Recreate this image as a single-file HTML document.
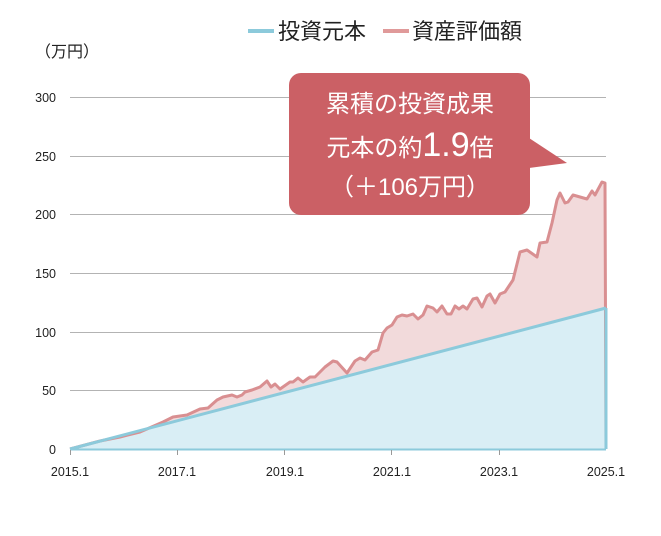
<!DOCTYPE html>
<html><head><meta charset="utf-8"><style>
body{margin:0;background:#fff;}
svg text{font-family:"Liberation Sans","Noto Sans CJK JP",sans-serif;}
</style></head><body>
<svg width="661" height="531" viewBox="0 0 661 531" xmlns="http://www.w3.org/2000/svg">
<g stroke="#b3b3b3" stroke-width="1">
<line x1="70" y1="97.5" x2="606" y2="97.5"/>
<line x1="70" y1="156.5" x2="606" y2="156.5"/>
<line x1="70" y1="214.5" x2="606" y2="214.5"/>
<line x1="70" y1="273.5" x2="606" y2="273.5"/>
<line x1="70" y1="332.5" x2="606" y2="332.5"/>
<line x1="70" y1="390.5" x2="606" y2="390.5"/>
</g>
<g font-size="12.5" fill="#222" text-anchor="end">
<text x="56" y="102">300</text><text x="56" y="161">250</text><text x="56" y="219">200</text>
<text x="56" y="278">150</text><text x="56" y="337">100</text><text x="56" y="395">50</text><text x="56" y="454">0</text>
</g>
<text x="35" y="57" font-size="16" fill="#222">（万円）</text>
<polygon fill="#f2dadb" points="70,449 100,441 120,437 140,432 163,422 173,417 187,415 200,409 208,408 217,400 223,397 232,395 237,397 242,395 245,392 252,390 260,387 267,381 271,387 275,384 280,389 290,382 293,382 298,378 303,382 310,377 315,377 325,367 333,361 337,362 347,373 355,361 360,358 365,360 372,352 378,350 383,333 387,328 392,325 397,317 402,315 407,316 413,314 418,319 423,315 427,306 433,308 437,312 442,306 447,314 451,314 455,306 459,309 463,306 467,309 473,299 477,298 482,307 487,296 490,294 495,303 500,294 505,292 513,280 520,252 527,250 537,257 540,243 547,242 552,223 557,200 560,193 565,203 568,202 573,195 587,199 592,191 595,195 602,182 605,183 606,308"/>
<polygon fill="#d9eef5" points="70,449 606,308 606,449"/>
<polyline fill="none" stroke="#d98f91" stroke-width="3" stroke-linejoin="round" points="70,449 100,441 120,437 140,432 163,422 173,417 187,415 200,409 208,408 217,400 223,397 232,395 237,397 242,395 245,392 252,390 260,387 267,381 271,387 275,384 280,389 290,382 293,382 298,378 303,382 310,377 315,377 325,367 333,361 337,362 347,373 355,361 360,358 365,360 372,352 378,350 383,333 387,328 392,325 397,317 402,315 407,316 413,314 418,319 423,315 427,306 433,308 437,312 442,306 447,314 451,314 455,306 459,309 463,306 467,309 473,299 477,298 482,307 487,296 490,294 495,303 500,294 505,292 513,280 520,252 527,250 537,257 540,243 547,242 552,223 557,200 560,193 565,203 568,202 573,195 587,199 592,191 595,195 602,182 605,183 606,449"/>
<line x1="70" y1="449" x2="606" y2="308" stroke="#8ccadb" stroke-width="3"/>
<line x1="606" y1="308" x2="606" y2="449" stroke="#8ccadb" stroke-width="3"/>
<line x1="70" y1="449.5" x2="606" y2="449.5" stroke="#8ccadb" stroke-width="2"/>
<g stroke="#999" stroke-width="1">
<line x1="70.5" y1="450" x2="70.5" y2="455"/><line x1="177.5" y1="450" x2="177.5" y2="455"/><line x1="284.5" y1="450" x2="284.5" y2="455"/>
<line x1="391.5" y1="450" x2="391.5" y2="455"/><line x1="499.5" y1="450" x2="499.5" y2="455"/>
</g>
<g font-size="12.5" fill="#222" text-anchor="middle">
<text x="70" y="476">2015.1</text><text x="177" y="476">2017.1</text><text x="285" y="476">2019.1</text>
<text x="392" y="476">2021.1</text><text x="499" y="476">2023.1</text><text x="606" y="476">2025.1</text>
</g>
<line x1="248" y1="31" x2="274" y2="31" stroke="#8ccadb" stroke-width="4"/>
<text x="278" y="39" font-size="22" fill="#222">投資元本</text>
<line x1="383" y1="31" x2="409" y2="31" stroke="#e09a9a" stroke-width="4"/>
<text x="412" y="39" font-size="22" fill="#222">資産評価額</text>
<rect x="289" y="73" width="241" height="142" rx="12" fill="#cb6065"/>
<polygon points="529,138 567,163 529,168" fill="#cb6065"/>
<g fill="#fff" text-anchor="middle">
<text x="410" y="112" font-size="24">累積の投資成果</text>
<text x="410" y="156" font-size="24">元本の約<tspan font-size="34">1.9</tspan>倍</text>
<text x="410" y="195" font-size="24">（＋106万円）</text>
</g>
</svg>
</body></html>
